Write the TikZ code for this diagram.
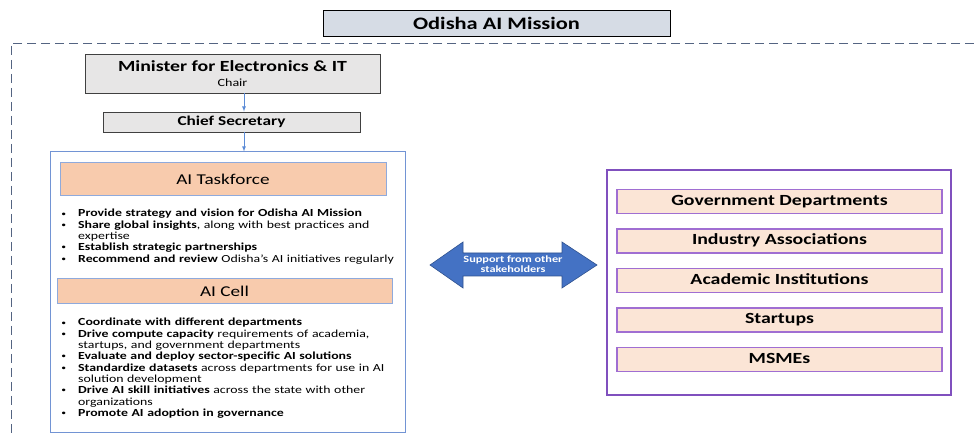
\documentclass[tikz,border=0pt]{standalone}
\usepackage{fontspec}
\setmainfont{Carlito}[FakeStretch=1.28]
\usetikzlibrary{matrix,arrows}

\definecolor{titlefill}{RGB}{214,220,229}
\definecolor{headfill}{RGB}{231,230,230}
\definecolor{headline}{RGB}{64,64,64}
\definecolor{cellfill}{RGB}{248,203,173}
\definecolor{cellline}{RGB}{143,170,220}
\definecolor{panelline}{RGB}{114,148,212}
\definecolor{flowblue}{RGB}{68,114,196}
\definecolor{flowline}{RGB}{91,139,214}
\definecolor{flowedge}{RGB}{47,82,143}
\definecolor{groupline}{RGB}{128,80,190}
\definecolor{stakeline}{RGB}{160,110,210}
\definecolor{stakefill}{RGB}{251,229,214}
\definecolor{missionline}{RGB}{84,100,130}

\newcommand{\itemdot}{\raisebox{0.9pt}{\fontsize{7.5}{8}\selectfont\textbullet}}
\newenvironment{tasklist}{\begin{list}{\itemdot}{%
  \setlength{\leftmargin}{20pt}\setlength{\labelwidth}{6pt}%
  \setlength{\labelsep}{12pt}\setlength{\itemsep}{0pt}%
  \setlength{\parsep}{0pt}\setlength{\topsep}{0pt}\setlength{\partopsep}{0pt}}}%
  {\end{list}}

\tikzset{
  titlebox/.style={draw=black, line width=0.9pt, fill=titlefill, inner sep=0pt, font=\fontsize{17.5}{19}\selectfont\bfseries},
  headbox/.style={draw=headline, line width=0.9pt, fill=headfill, inner sep=0pt, align=center},
  cellbox/.style={draw=cellline, line width=1pt, fill=cellfill, inner sep=0pt, font=\fontsize{15}{17}\selectfont},
  panelbox/.style={draw=panelline, line width=1pt, inner sep=0pt},
  items/.style={anchor=north west, inner sep=0pt, text width=345pt, font=\fontsize{10.8}{11.3}\selectfont},
  groupbox/.style={draw=groupline, line width=1.2pt, inner sep=0pt},
  stakebox/.style={draw=stakeline, line width=1.2pt, fill=stakefill, inner sep=0pt, minimum width=325pt, minimum height=24pt, text height=10.5pt, text depth=3pt, font=\fontsize{15.5}{17}\selectfont\bfseries},
  flow/.style={color=flowline, line width=0.8pt}
}

\begin{document}
\begin{tikzpicture}[x=1pt,y=-1pt,>=latex]
  \useasboundingbox (0,0) rectangle (974,435);
  % mission frame (open at right and bottom)
  \draw[missionline, line width=0.9pt, dash pattern=on 9pt off 5pt] (974,43) -- (11,43) -- (11,435);
  \node (title) [titlebox, minimum width=347pt, minimum height=26pt] at (496.5,23) {Odisha AI Mission};

  % governance chain
  \node (minister) [headbox, minimum width=295pt, minimum height=39pt] at (232.5,73.5)
    {{\fontsize{15.5}{17}\selectfont\bfseries Minister for Electronics \& IT}\\[3.5pt]{\fontsize{11}{12}\selectfont Chair}};
  \node (chief) [headbox, minimum width=257pt, minimum height=20pt, font=\fontsize{13.5}{14}\selectfont\bfseries] at (231.5,122) {Chief Secretary};
  \node (panel) [panelbox, minimum width=355pt, minimum height=280pt] at (227.5,292) {};

  \node (taskforce) [cellbox, minimum width=326pt, minimum height=33pt] at (223,179.5) {AI Taskforce};
  \node (tfitems) [items] at (58,205.5) {\begin{tasklist}
    \item \textbf{Provide strategy and vision for Odisha AI Mission}
    \item \textbf{Share global insights}, along with best practices and\\expertise
    \item \textbf{Establish strategic partnerships}
    \item \textbf{Recommend and review} Odisha’s AI initiatives regularly
  \end{tasklist}};

  \node (cell) [cellbox, minimum width=335pt, minimum height=25pt] at (224.5,291.5) {AI Cell};
  \node (cellitems) [items] at (58,314.5) {\begin{tasklist}
    \item \textbf{Coordinate with different departments}
    \item \textbf{Drive compute capacity} requirements of academia,\\startups, and government departments
    \item \textbf{Evaluate and deploy sector-specific AI solutions}
    \item \textbf{Standardize datasets} across departments for use in AI\\solution development
    \item \textbf{Drive AI skill initiatives} across the state with other\\organizations
    \item \textbf{Promote AI adoption in governance}
  \end{tasklist}};

  \coordinate (ax) at (244,0);
  \path[->, flow]
    (minister.south -| ax) edge (chief.north -| ax)
    (chief.south -| ax) edge (panel.north -| ax);

  % support arrow
  \filldraw[fill=flowblue, draw=flowedge, line width=0.6pt]
    (430,265) -- (463,242) -- (463,253) -- (562,253) -- (562,242) -- (597,265)
    -- (562,288) -- (562,276) -- (463,276) -- (463,288) -- cycle;
  \node (support) [text=white, align=center, inner sep=0pt, font=\fontsize{9.6}{10.5}\selectfont\bfseries] at (513,264)
    {Support from other\\stakeholders};

  % stakeholders
  \node (sgroup) [groupbox, minimum width=344pt, minimum height=225pt] at (779,282.5) {};
  \matrix (sh) [matrix of nodes, row sep=14.3pt, nodes={stakebox}] at (779.5,280.5)
  {
    Government Departments \\
    Industry Associations \\
    Academic Institutions \\
    Startups \\
    MSMEs \\
  };
\end{tikzpicture}
\end{document}
